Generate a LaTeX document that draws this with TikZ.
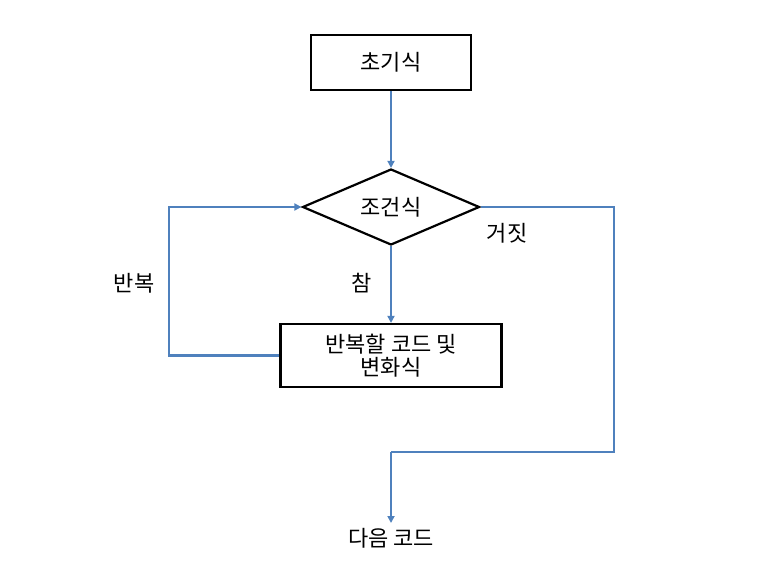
\documentclass[tikz,border=0pt]{standalone}
\usepackage{fontspec}
\setmainfont{Noto Sans CJK KR}
\usetikzlibrary{shapes.geometric,arrows.meta}
\definecolor{flowblue}{HTML}{4F81BD}
\tikzset{
  boxnode/.style={draw=black,line width=2.2pt,minimum width=160pt,minimum height=55pt,inner sep=0pt,font=\fontsize{22pt}{26pt}\selectfont,align=center},
  decnode/.style={draw=black,line width=2.2pt,diamond,aspect=2.33,minimum width=177pt,minimum height=76pt,inner sep=0pt,font=\fontsize{22pt}{26pt}\selectfont},
  lbl/.style={font=\fontsize{22pt}{26pt}\selectfont,inner sep=0pt},
  flow/.style={draw=flowblue,line width=2.2pt,-{Triangle[length=7pt,width=7pt]}},
  flowline/.style={draw=flowblue,line width=2.2pt}
}
\begin{document}
\begin{tikzpicture}[x=1pt,y=-1pt]
\useasboundingbox (0,0) rectangle (775,569);
\node[boxnode] (init) at (391,62.5) {초기식};
\node[decnode] (cond) at (391,207) {조건식};
\node[boxnode,minimum width=221pt,minimum height=63pt] (body) at (391,355.5) {반복할 코드 및\\[-3pt]변화식};
\node[lbl] (next) at (391,538) {다음 코드};
\node[lbl] (loop) at (134,283) {반복};
\node[lbl] (true) at (362,283) {참};
\node[lbl] (false) at (507,233) {거짓};
\coordinate (lc1) at (169,355.5);
\coordinate (lc2) at (169,207);
\coordinate (rc1) at (614,207);
\coordinate (rc2) at (614,452);
\coordinate (rc3) at (391,452);
\coordinate (nend) at (391,523);
\draw[flow] (init.south) -- (cond.north);
\draw[flow] (cond.south) -- (body.north);
\draw[flow] (body.west) -- (lc1) -- (lc2) -- (cond.west);
\draw[flowline] (cond.east) -- (rc1) -- (rc2) -- (rc3);
\draw[flow] (rc3) -- (nend);
\end{tikzpicture}
\end{document}
